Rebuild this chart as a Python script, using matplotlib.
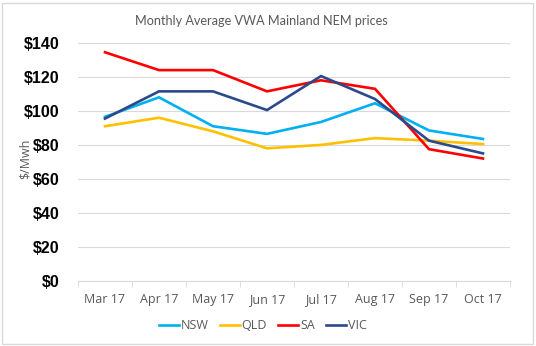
import numpy as np
import matplotlib.pyplot as plt
from matplotlib.patches import Rectangle

months = ["Mar 17", "Apr 17", "May 17", "Jun 17", "Jul 17", "Aug 17", "Sep 17", "Oct 17"]
nsw = [96.5, 108, 91, 86.5, 93.5, 104.5, 88.5, 83.5]
qld = [91, 96, 88, 78, 80, 84, 82.5, 80.5]
sa = [134.5, 124, 124, 111.5, 118, 113, 77.5, 72]
vic = [95.5, 111.5, 111.5, 100.5, 120.5, 107, 82.5, 75]

series = [("NSW", nsw, "#00B0F0"), ("QLD", qld, "#FFC000"),
          ("SA", sa, "#FF0000"), ("VIC", vic, "#2B4A8B")]

fig = plt.figure(figsize=(5.36, 3.46), dpi=100)
ax = fig.add_axes([0.1455, 0.188, 0.806, 0.688])

x = np.arange(len(months))
for name, vals, col in series:
    ax.plot(x, vals, color=col, lw=1.9, label=name, solid_joinstyle="miter")

ax.set_xlim(-0.5, len(months) - 0.5)
ax.set_ylim(0, 140)
ax.set_yticks(np.arange(0, 141, 20))
ax.set_yticklabels(["$%d" % v for v in range(0, 141, 20)],
                   fontfamily="Liberation Sans", fontweight="bold", fontsize=11.5)
ax.set_xticks(x)
ax.set_xticklabels(months, fontfamily="Open Sans", fontsize=9, color="#595959")
ax.set_xticks(np.arange(-0.5, len(months)), minor=True)
ax.tick_params(axis="x", which="major", length=0, pad=9)
ax.tick_params(axis="x", which="minor", length=4, color="#D9D9D9")
ax.tick_params(axis="y", length=0, pad=13)
ax.grid(axis="y", color="#D9D9D9", lw=0.8)
ax.set_axisbelow(True)
for s in ["top", "right", "left"]:
    ax.spines[s].set_visible(False)
ax.spines["bottom"].set_color("#D9D9D9")

fig.text(0.047, 0.54, "$/Mwh", rotation=90, ha="center", va="center",
         fontfamily="Open Sans", fontsize=9, color="#595959")
fig.text(0.487, 0.94, "Monthly Average VWA Mainland NEM prices", ha="center", va="center",
         fontfamily="Lato", fontsize=9.1, color="#595959")

leg = fig.legend(loc="center", bbox_to_anchor=(0.49, 0.058), ncol=4, frameon=False,
                 handlelength=1.6, handletextpad=0.15, columnspacing=0.9,
                 prop={"family": "Open Sans", "size": 9})
for t in leg.get_texts():
    t.set_color("#595959")

fig.patches.append(Rectangle((0.004, 0.006), 0.99, 0.985, transform=fig.transFigure,
                             fill=False, edgecolor="#D9D9D9", lw=1))

fig.savefig("out.png", dpi=100)
